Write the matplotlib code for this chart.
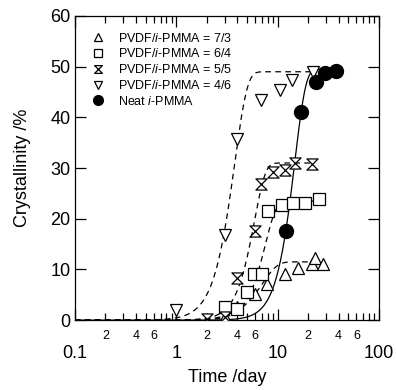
import numpy as np
import matplotlib
matplotlib.use("Agg")
import matplotlib.pyplot as plt
from matplotlib.ticker import FixedLocator, FuncFormatter
from matplotlib.path import Path

plt.rcParams['font.family'] = ['Liberation Sans', 'DejaVu Sans']
plt.rcParams['mathtext.fontset'] = 'custom'
plt.rcParams['mathtext.rm'] = 'Liberation Sans'
plt.rcParams['mathtext.it'] = 'Liberation Sans:italic'

# ---- data ----
labels = ["PVDF/$\\it{i}$-PMMA = 7/3", "PVDF/$\\it{i}$-PMMA = 6/4",
          "PVDF/$\\it{i}$-PMMA = 5/5", "PVDF/$\\it{i}$-PMMA = 4/6",
          "Neat $\\it{i}$-PMMA"]

t73 = [3.0, 4.0, 6.0, 7.9, 11.9, 15.8, 21.9, 23.5, 27.8]
x73 = [0.7, 2.6, 5.1, 7.1, 9.1, 10.2, 11.0, 12.3, 11.0]

t64 = [3.0, 4.0, 5.0, 5.9, 7.0, 8.0, 11.0, 14.1, 18.8, 25.8]
x64 = [2.6, 2.2, 5.5, 9.2, 9.2, 21.6, 22.7, 23.2, 23.2, 24.0]

t55 = [2.0, 3.0, 4.0, 6.0, 6.9, 9.0, 11.9, 15.0, 21.9]
x55 = [0.3, 0.6, 8.4, 17.5, 26.8, 29.3, 29.6, 31.1, 30.9]

t46 = [1.0, 3.0, 4.0, 6.8, 10.6, 13.9, 22.2]
x46 = [2.0, 16.8, 35.8, 43.4, 45.5, 47.3, 49.0]

tneat = [12.0, 17.0, 24.0, 29.5, 38.0]
xneat = [17.5, 41.0, 47.0, 48.8, 49.2]

# Avrami fit parameters: (X_inf, t_half, n, t_end)
fit73 = (11.5, 6.3, 3.0, 28.0)
fit64 = (23.5, 6.9, 4.0, 26.0)
fit55 = (31.0, 5.4, 4.0, 22.0)
fit46 = (49.0, 3.4, 3.5, 22.0)
fitneat = (49.5, 13.5, 4.0, 40.0)

def avrami(p):
    xinf, th, n, tend = p
    t = np.logspace(-1, np.log10(tend), 400)
    return t, xinf * (1 - np.exp(-np.log(2) * (t / th) ** n))

hourglass = Path([(-1, 1), (1, 1), (-1, -1), (1, -1), (-1, 1), (-1, 1)],
                 [Path.MOVETO, Path.LINETO, Path.LINETO, Path.LINETO,
                  Path.LINETO, Path.CLOSEPOLY])

fig = plt.figure(figsize=(3.96, 3.90), dpi=100)
ax = fig.add_axes([0.189, 0.179, 0.768, 0.780])

for p in (fit73, fit64, fit55, fit46):
    t, y = avrami(p)
    ax.plot(t, y, color='black', lw=0.9, dashes=(4.5, 3.5), zorder=2)
t, y = avrami(fitneat)
ax.plot(t, y, color='black', lw=0.9, zorder=2)

mk = dict(mfc='white', mec='black', mew=0.9, ls='none', zorder=3)
ax.plot(t73, x73, marker='^', ms=8, label=labels[0], **mk)
ax.plot(t64, x64, marker='s', ms=8, label=labels[1], **mk)
ax.plot(t55, x55, marker=hourglass, ms=8, label=labels[2], **mk)
ax.plot(t46, x46, marker='v', ms=8, label=labels[3], **mk)
ax.plot(tneat, xneat, marker='o', ms=10, mfc='black', mec='black',
        ls='none', zorder=4, label=labels[4])

ax.set_xscale('log')
ax.set_xlim(0.1, 100)
ax.set_ylim(0, 60)
ax.set_yticks([0, 10, 20, 30, 40, 50, 60])

ax.xaxis.set_major_locator(FixedLocator([0.1, 1, 10, 100]))
ax.xaxis.set_major_formatter(FuncFormatter(
    lambda v, pos: {0.1: '0.1', 1.0: '1', 10.0: '10', 100.0: '100'}.get(round(v, 3), '')))
minors = [m * 10.0 ** e for e in (-1, 0, 1) for m in range(2, 10)]
ax.xaxis.set_minor_locator(FixedLocator(minors))

def minfmt(v, pos):
    m = int(round(v / 10 ** np.floor(np.log10(v) + 1e-9)))
    return str(m) if m in (2, 4, 6) else ''
ax.xaxis.set_minor_formatter(FuncFormatter(minfmt))

ax.tick_params(axis='both', which='both', direction='in', top=True, right=True)
ax.tick_params(axis='x', which='major', length=8, width=0.9, pad=18, labelsize=13)
ax.tick_params(axis='x', which='minor', length=5, width=0.9, pad=7, labelsize=9)
ax.tick_params(axis='y', which='major', length=8, width=0.9, pad=3, labelsize=13)
for s in ax.spines.values():
    s.set_linewidth(0.9)

ax.set_xlabel('Time /day', fontsize=13, labelpad=5)
ax.set_ylabel('Crystallinity /%', fontsize=13, labelpad=14)

ax.legend(loc='upper left', frameon=False, fontsize=9,
          markerscale=0.7, handlelength=1.0, handletextpad=1.1,
          labelspacing=0.22, borderaxespad=0.0,
          bbox_to_anchor=(0.04, 0.965))

fig.savefig('out.png', dpi=100)
